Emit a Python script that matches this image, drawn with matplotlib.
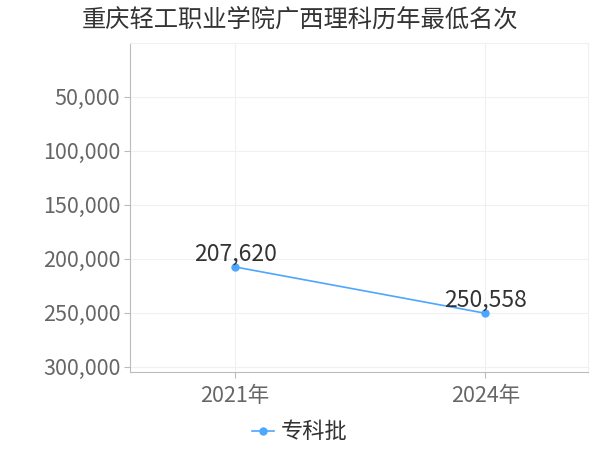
import matplotlib
matplotlib.use("Agg")
import matplotlib.pyplot as plt
from matplotlib.ticker import FuncFormatter

plt.rcParams['font.family'] = ['Noto Sans CJK SC', 'DejaVu Sans']

# data
years = ["2021年", "2024年"]
ranks = [207620, 250558]
series_name = "专科批"
yticks = [50000, 100000, 150000, 200000, 250000, 300000]

line_color = "#4da6ff"

fig = plt.figure(figsize=(6, 4.5), dpi=100)
ax = fig.add_axes([130 / 600, 1 - 372 / 450, 458 / 600, 329 / 450])

xs = list(range(len(years)))
ax.plot(xs, ranks, color=line_color, lw=1.2, marker='o', ms=5,
        label=series_name, zorder=3)

for x, v in zip(xs, ranks):
    ax.annotate(f"{v:,}", (x, v), xytext=(0, 1), textcoords="offset points",
                ha="center", va="bottom", fontsize=16.5, color="#333333")

ax.set_xlim(-0.42, 1.41)
ax.set_ylim(305000, 0)
ax.set_xticks(xs)
ax.set_xticklabels(years)
ax.set_yticks(yticks)
ax.yaxis.set_major_formatter(FuncFormatter(lambda v, p: f"{int(v):,}"))

ax.tick_params(axis='both', labelsize=15.5, colors="#666666", length=4,
               color="#bbbbbb")
ax.tick_params(axis='y', pad=3)
ax.tick_params(axis='x', pad=5)

ax.grid(True, color="#f0f0f0", lw=0.8)
ax.set_axisbelow(True)
for s in ["top", "right"]:
    ax.spines[s].set_color("#f0f0f0")
for s in ["left", "bottom"]:
    ax.spines[s].set_color("#bbbbbb")

fig.suptitle("重庆轻工职业学院广西理科历年最低名次", x=0.5, y=0.985,
             fontsize=17.5, color="#333333")

fig.legend(loc="center", bbox_to_anchor=(0.5, 1 - 432 / 450), frameon=False,
           fontsize=16, handlelength=1.0, handletextpad=0.3,
           labelcolor="#333333")

fig.savefig("out.png", dpi=100)
